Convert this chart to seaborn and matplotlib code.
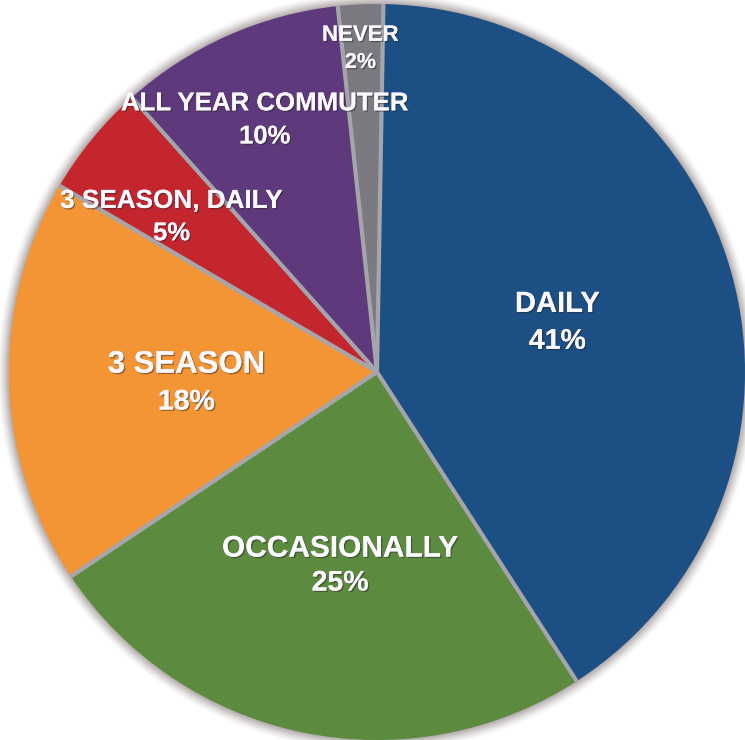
import numpy as np
import matplotlib
matplotlib.use("Agg")
import matplotlib.pyplot as plt
import matplotlib.patheffects as pe
from matplotlib.patches import Circle
import seaborn as sns

# Commuting frequency survey
categories = ["DAILY", "OCCASIONALLY", "3 SEASON", "3 SEASON, DAILY",
              "ALL YEAR COMMUTER", "NEVER"]
shares = [41, 25, 18, 5, 10, 2]
pct_labels = ["41%", "25%", "18%", "5%", "10%", "2%"]
colors = ["#1c4f84", "#5c8a3e", "#f39535", "#c4262e", "#5e3a7c", "#7a7a80"]

sns.set_theme(style="white")
plt.rcParams["font.family"] = ["Liberation Sans", "DejaVu Sans"]

fig = plt.figure(figsize=(7.45, 7.40), dpi=100)
ax = fig.add_axes([0, 0, 1, 1])

# soft shadow around the disc
for r, a in zip(np.linspace(1.03, 1.0, 9), np.linspace(0.03, 0.13, 9)):
    ax.add_patch(Circle((0, 0), r, color="#6b5a5a", alpha=a, lw=0, zorder=0))

wedges, _ = ax.pie(shares, colors=colors, startangle=89, counterclock=False,
                   radius=1.0, wedgeprops=dict(linewidth=0), center=(0, 0))
for w in wedges:
    w.set_zorder(1)

# silver separators between wedges
total = sum(shares)
cum = np.cumsum([0] + shares)
for c in cum[:-1]:
    theta = np.deg2rad(89 - 360 * c / total)
    ax.plot([0, np.cos(theta)], [0, np.sin(theta)], color="#a5a5ab",
            lw=3.0, solid_capstyle="butt", zorder=2)

# label placement (position in disc units, font sizes)
label_pos = [(0.49, 0.185), (-0.10, -0.48), (-0.518, 0.02),
             (-0.558, 0.465), (-0.305, 0.73), (-0.045, 0.915)]
name_size = [21, 21.5, 22.4, 18.8, 18.6, 16]
pct_size = [20.5, 20.5, 20.5, 18.5, 18.5, 15.5]
gap = [0.103, 0.095, 0.103, 0.088, 0.09, 0.074]

shadow = [pe.withSimplePatchShadow(offset=(1, -1), shadow_rgbFace="#222222", alpha=0.45),
          pe.Normal()]
for (x, y), name, pct, ns, ps, g in zip(label_pos, categories, pct_labels,
                                         name_size, pct_size, gap):
    ax.text(x, y, name, ha="center", va="center", color="#fbf8ff",
            fontsize=ns, fontweight="bold", zorder=5, path_effects=shadow)
    ax.text(x, y - g, pct, ha="center", va="center", color="#fbf8ff",
            fontsize=ps, fontweight="bold", zorder=5, path_effects=shadow)

ax.set_xlim(-377 / 368, 368 / 368)
ax.set_ylim(-368 / 368, 372 / 368)
ax.set_aspect("equal")
ax.axis("off")

fig.savefig("out.png", dpi=100, facecolor="white")
